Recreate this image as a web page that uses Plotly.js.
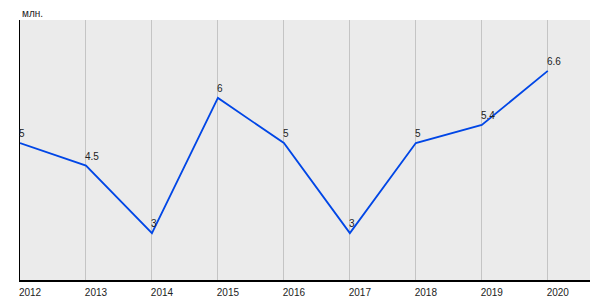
<!DOCTYPE html>
<html><head><meta charset="utf-8">
<script src="https://cdn.plot.ly/plotly-3.0.1.min.js"></script>
<style>html,body{margin:0;padding:0;background:#fff;}#chart{width:600px;height:300px;}</style>
</head><body><div id="chart"></div>
<script>
const years = [2012, 2013, 2014, 2015, 2016, 2017, 2018, 2019, 2020];
const values = [5, 4.5, 3, 6, 5, 3, 5, 5.4, 6.6];
const valueLabels = ['5', '4.5', '3', '6', '5', '3', '5', '5.4', '6.6'];
const unitLabel = 'млн.';

const trace = {
  x: years, y: values, type: 'scatter', mode: 'lines',
  line: {color: '#0046e6', width: 1.8},
  cliponaxis: false, hoverinfo: 'none'
};
const labelAnnotations = years.map((yr, i) => ({
  x: yr, y: values[i], xref: 'x', yref: 'y', text: valueLabels[i],
  xanchor: 'left', yanchor: 'bottom', xshift: -3, yshift: 2, showarrow: false,
  font: {size: 10, color: '#222'}
}));
const layout = {
  width: 600, height: 300,
  margin: {l: 20, r: 10, t: 20, b: 20},
  paper_bgcolor: '#fff', plot_bgcolor: '#ebebeb',
  showlegend: false,
  font: {family: 'Liberation Sans, Arial, sans-serif', size: 10, color: '#222'},
  xaxis: {
    range: [2012, 2020.64], tickvals: years, ticktext: years.map(String),
    showgrid: true, gridcolor: '#c4c4c4', gridwidth: 1,
    showline: true, linecolor: '#000', linewidth: 1.5,
    ticks: '', ticklabelshift: 10, ticklabelstandoff: 2,
    tickfont: {size: 10, color: '#222'}, zeroline: false, fixedrange: true
  },
  yaxis: {
    range: [1.96, 7.73], showgrid: false, showticklabels: false,
    showline: true, linecolor: '#000', linewidth: 1.5, ticks: '', zeroline: false
  },
  annotations: [{
    text: unitLabel, xref: 'paper', yref: 'paper', x: 0, y: 1, xanchor: 'left', yanchor: 'bottom',
    yshift: -1, showarrow: false, font: {size: 10, color: '#222'}
  }].concat(labelAnnotations)
};
Plotly.newPlot('chart', [trace], layout, {displayModeBar: false, staticPlot: true});
</script></body></html>
